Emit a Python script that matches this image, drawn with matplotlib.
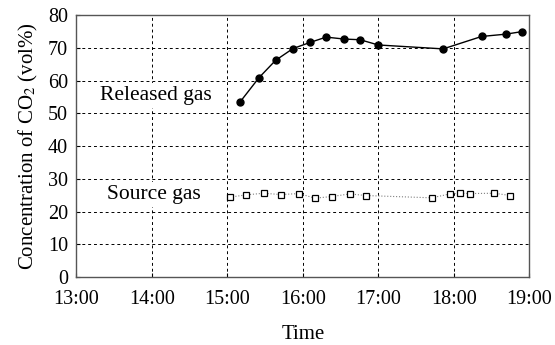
import matplotlib
matplotlib.use("Agg")
import matplotlib.pyplot as plt
from matplotlib.ticker import FuncFormatter

plt.rcParams['font.family'] = ['Liberation Serif', 'DejaVu Serif']
plt.rcParams['mathtext.fontset'] = 'stix'

# time in hours of day, concentration in vol%
released_t = [15.17, 15.42, 15.64, 15.87, 16.10, 16.31, 16.55, 16.76, 17.00, 17.86, 18.37, 18.69, 18.91]
released_c = [53.5, 60.9, 66.2, 69.8, 71.7, 73.3, 72.7, 72.5, 70.9, 69.7, 73.5, 74.2, 75.0]

source_t = [15.03, 15.25, 15.48, 15.71, 15.95, 16.16, 16.39, 16.62, 16.84, 17.71, 17.95, 18.08, 18.22, 18.54, 18.75]
source_c = [24.4, 25.1, 25.6, 25.2, 25.5, 24.1, 24.6, 25.4, 24.9, 24.2, 25.4, 25.6, 25.5, 25.6, 24.9]

fig = plt.figure(figsize=(5.55, 3.45), dpi=100)
ax = fig.add_axes([0.1375, 0.197, 0.816, 0.759])

ax.plot(released_t, released_c, color='black', lw=1.0, marker='o', ms=5)
ax.plot(source_t, source_c, color='gray', lw=0.8, ls=':', marker='s', ms=5,
        mfc='white', mec='black', mew=0.9)

box = dict(facecolor='white', edgecolor='none', pad=2)
ax.text(13.32, 55.5, 'Released gas', fontsize=15.5, va='center', bbox=box, zorder=3)
ax.text(13.41, 25.2, 'Source gas', fontsize=15.5, va='center', bbox=box, zorder=3)

ax.set_xlim(13, 19)
ax.set_ylim(0, 80)
ax.set_xticks(range(13, 20))
ax.set_yticks(range(0, 81, 10))
ax.xaxis.set_major_formatter(FuncFormatter(lambda v, p: f"{int(v)}:00"))
ax.tick_params(direction='in', length=3, labelsize=14.5)
ax.tick_params(axis='y', pad=6)
ax.tick_params(axis='x', pad=9)
ax.grid(True, color='black', ls=(0, (3, 3)), lw=0.7)
for s in ax.spines.values():
    s.set_color('#555555')
    s.set_linewidth(1.0)

ax.set_xlabel('Time', fontsize=15, labelpad=12)
ax.set_ylabel('Concentration of CO$_2$ (vol%)', fontsize=15, labelpad=6)

fig.savefig('out.png', dpi=100)
